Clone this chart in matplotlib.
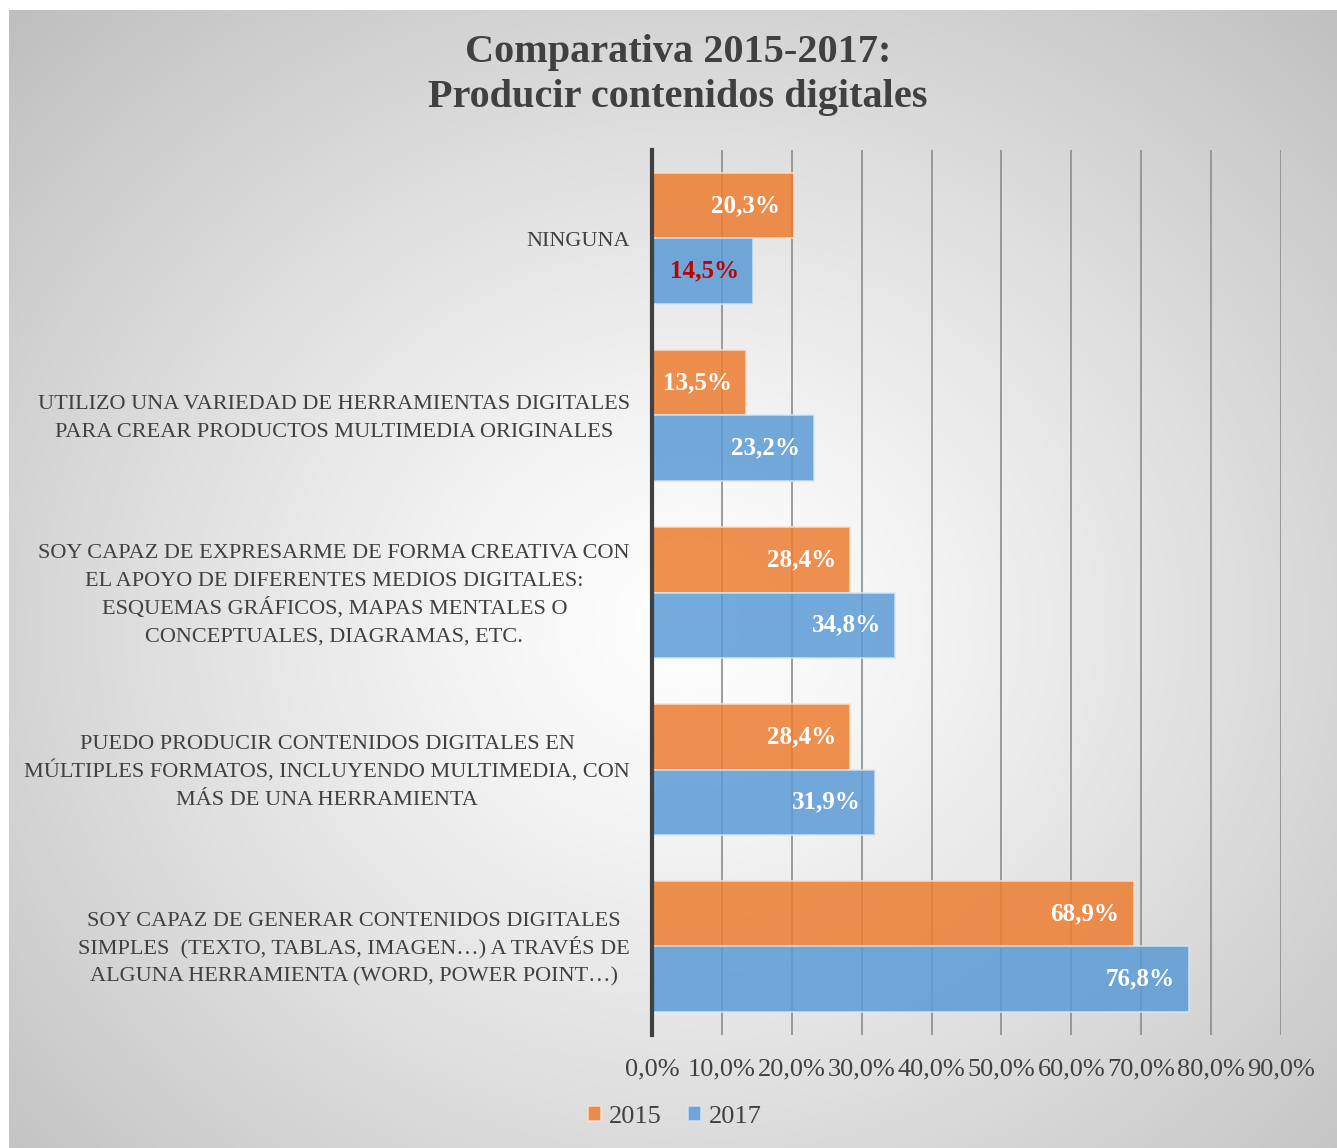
import matplotlib.pyplot as plt
import matplotlib.transforms as mtransforms
import numpy as np

# data (top to bottom as shown)
categories = [
    "NINGUNA",
    "UTILIZO UNA VARIEDAD DE HERRAMIENTAS DIGITALES\nPARA CREAR PRODUCTOS MULTIMEDIA ORIGINALES",
    "SOY CAPAZ DE EXPRESARME DE FORMA CREATIVA CON\nEL APOYO DE DIFERENTES MEDIOS DIGITALES:\n"
    "ESQUEMAS GRÁFICOS, MAPAS MENTALES O\nCONCEPTUALES, DIAGRAMAS, ETC.",
    "PUEDO PRODUCIR CONTENIDOS DIGITALES EN\nMÚLTIPLES FORMATOS, INCLUYENDO MULTIMEDIA, CON\nMÁS DE UNA HERRAMIENTA",
    "SOY CAPAZ DE GENERAR CONTENIDOS DIGITALES\nSIMPLES  (TEXTO, TABLAS, IMAGEN…) A TRAVÉS DE\nALGUNA HERRAMIENTA (WORD, POWER POINT…)",
]
values_2015 = [20.3, 13.5, 28.4, 28.4, 68.9]
values_2017 = [14.5, 23.2, 34.8, 31.9, 76.8]
x_ticks = [0, 10, 20, 30, 40, 50, 60, 70, 80, 90]

plt.rcParams['font.family'] = ['Liberation Serif', 'DejaVu Serif']

W, H = 1337, 1148
fig = plt.figure(figsize=(W / 100, H / 100), dpi=100)
fig.patch.set_facecolor('white')

# radial gradient background for the chart area
bg = fig.add_axes([9 / W, 0, 1 - 9 / W, 1 - 10 / H], zorder=0)
yy, xx = np.mgrid[0:400, 0:460]
cx, cy = 235, 215
r = np.sqrt(((xx - cx) / 330.0) ** 2 + ((yy - cy) / 300.0) ** 2)
shade = 1.0 - 0.25 * np.clip(r, 0, 1.2) ** 1.2
bg.imshow(np.dstack([shade] * 3), aspect='auto', extent=[0, 1, 0, 1], origin='upper')
bg.axis('off')

ax = fig.add_axes([652 / W, 1 - 1035 / H, (1281 - 652) / W, (1035 - 150) / H], zorder=1)
ax.patch.set_alpha(0)

y = np.arange(len(categories))
h = 0.37
orange = '#ED7D31'
blue = '#5B9BD5'
ax.barh(y - h / 2, values_2015, height=h, color=orange, alpha=0.85,
        edgecolor='#fbe0cf', linewidth=1.2, zorder=3, label='2015')
ax.barh(y + h / 2, values_2017, height=h, color=blue, alpha=0.85,
        edgecolor='#d6e6f5', linewidth=1.2, zorder=3, label='2017')

for i, v in enumerate(values_2015):
    ax.text(v - 2.0, i - h / 2, f"{v:.1f}%".replace('.', ','), ha='right', va='center',
            color='white', fontsize=18, fontweight='bold', zorder=4)
for i, v in enumerate(values_2017):
    col = '#C00000' if i == 0 else 'white'
    ax.text(v - 2.0, i + h / 2, f"{v:.1f}%".replace('.', ','), ha='right', va='center',
            color=col, fontsize=18, fontweight='bold', zorder=4)

ax.set_xlim(0, 90)
ax.set_ylim(4.5, -0.5)
ax.set_xticks(x_ticks)
ax.set_xticklabels([f"{t:.1f}%".replace('.', ',') for t in x_ticks], fontsize=19, color='#404040')
ax.tick_params(axis='x', length=0, pad=17)
ax.grid(axis='x', color='#8c8c8c', linewidth=1.2, zorder=1)
ax.set_yticks([])
for s in ['top', 'right', 'bottom']:
    ax.spines[s].set_visible(False)
ax.spines['left'].set_color('#404040')
ax.spines['left'].set_linewidth(3)
ax.spines['left'].set_zorder(5)

# category labels, one line at a time so the spacing stays even
label_size = 16
line_step = 28 * 72 / 100  # points
cap_half = 0.33 * label_size
ytrans = ax.get_yaxis_transform()
fig.canvas.draw()
renderer = fig.canvas.get_renderer()
for i, label in enumerate(categories):
    lines = label.split('\n')
    n = len(lines)
    texts = []
    for k, line in enumerate(lines):
        off = (k - (n - 1) / 2) * line_step
        tr = mtransforms.offset_copy(ytrans, fig=fig, x=0, y=-off - cap_half, units='points')
        t = ax.text(0, i, line, transform=tr, ha='center', va='baseline',
                    fontsize=label_size, color='#404040', clip_on=False)
        texts.append(t)
    # center the lines on the widest one, right edge just left of the axis
    wmax = max(t.get_window_extent(renderer).width for t in texts)
    xc_px = 652 - 22 - wmax / 2
    for t in texts:
        t.set_x((xc_px - 652) / (1281 - 652))

fig.text(678 / W, 1 - 75 / H, "Comparativa 2015-2017:\nProducir contenidos digitales",
         ha='center', va='center', fontsize=29, fontweight='bold', color='#404040',
         linespacing=1.3)

handles, labels = ax.get_legend_handles_labels()
fig.legend(handles, labels, loc='center', bbox_to_anchor=(675 / W, 1 - 1117 / H), ncol=2,
           frameon=False, fontsize=19, handlelength=0.5, handleheight=0.5,
           handletextpad=0.3, columnspacing=1.0, labelcolor='#404040')

fig.savefig('out.png', dpi=100)
